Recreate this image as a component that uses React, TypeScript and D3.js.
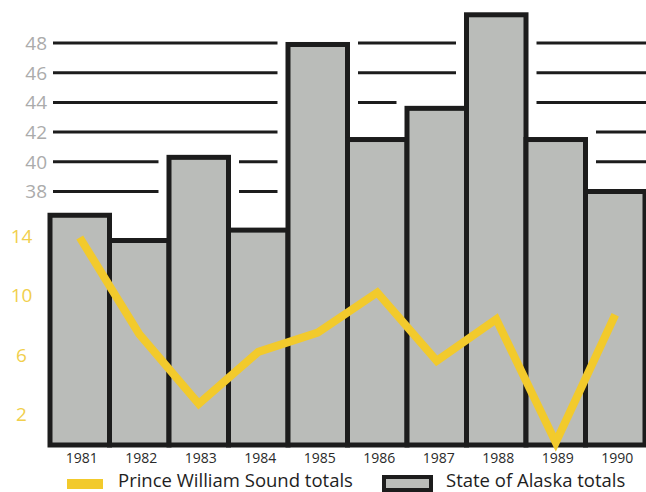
import React from "react";
import * as d3 from "d3";

const years = ["1981", "1982", "1983", "1984", "1985", "1986", "1987", "1988", "1989", "1990"];
const alaskaTotals = [36.4, 34.7, 40.3, 35.4, 47.9, 41.5, 43.6, 49.9, 41.5, 38.0];
const pwsTotals = [13.9, 7.4, 2.7, 6.2, 7.5, 10.2, 5.6, 8.4, 0.1, 8.7];
const upperTicks = [38, 40, 42, 44, 46, 48];
const lowerTicks = [2, 6, 10, 14];
const legendLabels = ["Prince William Sound totals", "State of Alaska totals"];

const W = 646;
const H = 492;
const FONT = "'Open Sans', 'Noto Sans', sans-serif";
const BAR_FILL = "#babcb9";
const DARK = "#1c1c1c";
const YELLOW = "#f2ca2c";
const baseline = 445;

export default function App() {
  const x = d3.scaleBand<string>().domain(years).range([50, 645]).padding(0);
  const yUpper = d3.scaleLinear().domain([38, 48]).range([191.5, 43]);
  const yLower = d3.scaleLinear().domain([0, 14]).range([444, 236]);

  const line = d3
    .line<number>()
    .x((_, i) => (x(years[i]) as number) + x.bandwidth() / 2)
    .y((d) => yLower(d));

  return (
    <svg
      width={W}
      height={H}
      style={{ position: "absolute", left: 0, top: 0, background: "#fff" }}
      fontFamily={FONT}
    >
      {/* gridlines */}
      {upperTicks.map((t) => (
        <line key={"g" + t} x1={53} x2={W} y1={yUpper(t)} y2={yUpper(t)} stroke={DARK} strokeWidth={3} />
      ))}
      {/* white halo knocking out gridlines near bars */}
      {years.map((yr, i) => (
        <rect
          key={"h" + yr}
          x={x(yr) as number}
          y={yUpper(alaskaTotals[i])}
          width={x.bandwidth()}
          height={baseline - yUpper(alaskaTotals[i])}
          fill="#fff"
          stroke="#fff"
          strokeWidth={21}
          strokeLinejoin="miter"
        />
      ))}
      {/* bars */}
      {years.map((yr, i) => (
        <rect
          key={"b" + yr}
          x={x(yr) as number}
          y={yUpper(alaskaTotals[i])}
          width={x.bandwidth()}
          height={baseline - yUpper(alaskaTotals[i])}
          fill={BAR_FILL}
          stroke={DARK}
          strokeWidth={5}
        />
      ))}
      {/* line */}
      <path d={line(pwsTotals) || ""} fill="none" stroke={YELLOW} strokeWidth={8} strokeLinejoin="miter" />
      {/* upper ticks */}
      {upperTicks.map((t) => (
        <text key={"u" + t} x={47} y={yUpper(t)} dy="0.36em" textAnchor="end" fontSize={19} fill="#ababab">
          {t}
        </text>
      ))}
      {/* lower ticks */}
      {lowerTicks.map((t) => (
        <text key={"l" + t} x={21.5} y={yLower(t)} dy="0.36em" textAnchor="middle" fontSize={19} fill="#f1cf4c">
          {t}
        </text>
      ))}
      {/* x labels */}
      {years.map((yr) => (
        <text
          key={"x" + yr}
          x={(x(yr) as number) + x.bandwidth() / 2 + 2}
          y={463}
          textAnchor="middle"
          fontSize={14}
          fill="#2a2a2a"
        >
          {yr}
        </text>
      ))}
      {/* legend */}
      <rect x={67} y={479} width={36} height={10} fill={YELLOW} />
      <text x={118} y={486.5} fontSize={18.5} fill="#1e1e1e">
        {legendLabels[0]}
      </text>
      <rect x={384} y={477} width={47} height={13} fill={BAR_FILL} stroke={DARK} strokeWidth={4} />
      <text x={446} y={486.5} fontSize={18.5} fill="#1e1e1e">
        {legendLabels[1]}
      </text>
    </svg>
  );
}
